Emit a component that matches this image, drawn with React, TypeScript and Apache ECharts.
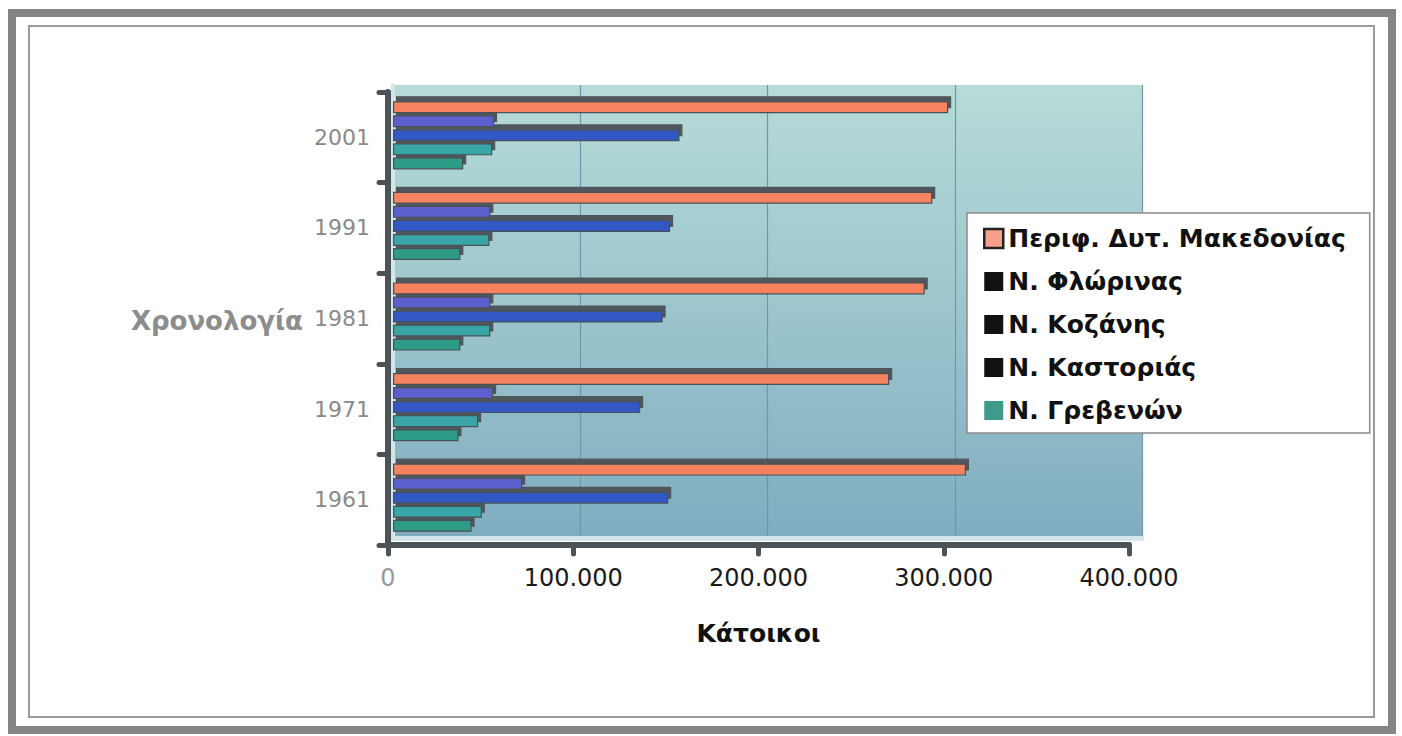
import React, { useEffect, useRef } from "react";
import * as echarts from "echarts";

const years = ["1961", "1971", "1981", "1991", "2001"];
const seriesNames = [
  "Περιφ. Δυτ. Μακεδονίας",
  "Ν. Φλώρινας",
  "Ν. Κοζάνης",
  "Ν. Καστοριάς",
  "Ν. Γρεβενών",
];
const periferia = [306000, 265000, 284000, 288000, 296500];
const florina = [69000, 53500, 52000, 52000, 54000];
const kozani = [147000, 132000, 144000, 148000, 153000];
const kastoria = [47500, 45500, 52000, 51500, 53000];
const grevena = [42000, 35000, 36000, 36000, 37500];
const xTicks = [0, 100000, 200000, 300000, 400000];

const seriesValues = [periferia, florina, kozani, kastoria, grevena];
const seriesColors = ["#f7825f", "#5b60cf", "#3158c6", "#38a5a6", "#2f9b87"];
const legendIconColors = ["#f6a08a", "#111111", "#111111", "#111111", "#3f9a8c"];

const FONT = "DejaVu Sans";

export default function App() {
  const ref = useRef<HTMLDivElement>(null);
  useEffect(() => {
    if (!ref.current) return;
    const chart = echarts.init(ref.current, undefined, { renderer: "svg" });
    const axisColor = "#4c5357";
    const fmt = (v: number) => String(v).replace(/\B(?=(\d{3})+(?!\d))/g, ".");

    const series = seriesNames.map((n, i) => ({
      name: n,
      type: "bar",
      xAxisIndex: 2,
      yAxisIndex: 2,
      data: seriesValues[i],
      barWidth: 12,
      barGap: "17%",
      z: 8 - i,
      itemStyle: {
        color: seriesColors[i],
        borderColor: "#4a5155",
        borderWidth: 1.2,
        shadowColor: "#50575b",
        shadowOffsetX: 3,
        shadowOffsetY: -5,
        shadowBlur: 0,
      },
    }));

    chart.setOption({
      animation: false,
      backgroundColor: "#ffffff",
      graphic: [
        {
          type: "rect",
          z: -10,
          shape: { x: 12, y: 13, width: 1380, height: 717 },
          style: { fill: "none", stroke: "#858585", lineWidth: 8 },
        },
        {
          type: "rect",
          z: -10,
          shape: { x: 29, y: 26, width: 1345, height: 691 },
          style: { fill: "none", stroke: "#9a9a9a", lineWidth: 2 },
        },
        {
          type: "text",
          x: 303,
          y: 321,
          style: {
            text: "Χρονολογία",
            font: `bold 26px "${FONT}"`,
            fill: "#8d8d8d",
            align: "right",
            verticalAlign: "middle",
          },
        },
      ],
      legend: {
        data: seriesNames.map((n, i) => ({
          name: n,
          itemStyle: {
            color: legendIconColors[i],
            borderColor: i === 0 ? "#222" : legendIconColors[i],
            borderWidth: i === 0 ? 2.5 : 0,
            shadowBlur: 0,
            shadowOffsetX: 0,
            shadowOffsetY: 0,
            shadowColor: "transparent",
          },
        })),
        orient: "vertical",
        left: 967,
        top: 213,
        icon: "rect",
        itemWidth: 19,
        itemHeight: 19,
        itemGap: 18,
        padding: [13, 24, 10, 16],
        backgroundColor: "#ffffff",
        borderColor: "#8a8a8a",
        borderWidth: 1.5,
        borderRadius: 0,
        selectedMode: false,
        textStyle: {
          fontFamily: FONT,
          fontWeight: "bold",
          fontSize: 25,
          lineHeight: 24,
          color: "#111",
        },
      },
      grid: [
        { left: 388, top: 92, width: 741, height: 453, containLabel: false },
        {
          left: 393,
          top: 85,
          width: 749,
          height: 453,
          show: true,
          borderWidth: 0,
          backgroundColor: new echarts.graphic.LinearGradient(0, 0, 0, 1, [
            { offset: 0, color: "#b6dcd8" },
            { offset: 0.5, color: "#9cc5cd" },
            { offset: 1, color: "#7fadc0" },
          ]),
        },
        { left: 393, top: 90, width: 749, height: 453 },
      ],
      xAxis: [
        {
          gridIndex: 0,
          type: "value",
          min: 0,
          max: 400000,
          interval: 100000,
          name: "Κάτοικοι",
          nameLocation: "middle",
          nameGap: 76,
          nameTextStyle: {
            fontFamily: FONT,
            fontWeight: "bold",
            fontSize: 25,
            color: "#111",
          },
          axisLine: { show: true, lineStyle: { color: axisColor, width: 6, cap: "round" } },
          axisTick: { show: true, length: 9, lineStyle: { color: axisColor, width: 5, cap: "round" } },
          splitLine: { show: false },
          axisLabel: {
            margin: 21,
            fontFamily: FONT,
            fontSize: 24,
            color: (v: number) => (Number(v) === 0 ? "#9a9a9a" : "#1a1a1a"),
            formatter: (v: number) => fmt(v),
            customValues: xTicks,
          },
          z: 10,
        },
        {
          gridIndex: 1,
          type: "value",
          min: 0,
          max: 400000,
          interval: 100000,
          axisLine: { show: true, lineStyle: { color: "#d3e7ea", width: 5 } },
          axisTick: { show: false },
          axisLabel: { show: false },
          splitLine: { show: true, lineStyle: { color: "#6e98a8", width: 1.2 } },
          z: 0,
        },
        {
          gridIndex: 2,
          type: "value",
          min: 0,
          max: 400000,
          interval: 100000,
          show: false,
        },
      ],
      yAxis: [
        {
          gridIndex: 0,
          type: "category",
          data: years,
          axisLine: { show: true, lineStyle: { color: axisColor, width: 6, cap: "round" } },
          axisTick: { show: true, length: 9, lineStyle: { color: axisColor, width: 5, cap: "round" } },
          axisLabel: {
            margin: 18,
            fontFamily: FONT,
            fontSize: 22,
            color: "#8a8a8a",
          },
          splitLine: { show: false },
          z: 10,
        },
        {
          gridIndex: 1,
          type: "category",
          data: years,
          axisLine: { show: true, lineStyle: { color: "#d3e7ea", width: 4 } },
          axisTick: { show: false },
          axisLabel: { show: false },
          splitLine: { show: false },
        },
        {
          gridIndex: 2,
          type: "category",
          data: years,
          show: false,
        },
      ],
      series,
    });
    return () => chart.dispose();
  }, []);
  return (
    <div
      ref={ref}
      style={{ position: "fixed", left: 0, top: 0, width: 1402, height: 736, background: "#fff" }}
    />
  );
}
